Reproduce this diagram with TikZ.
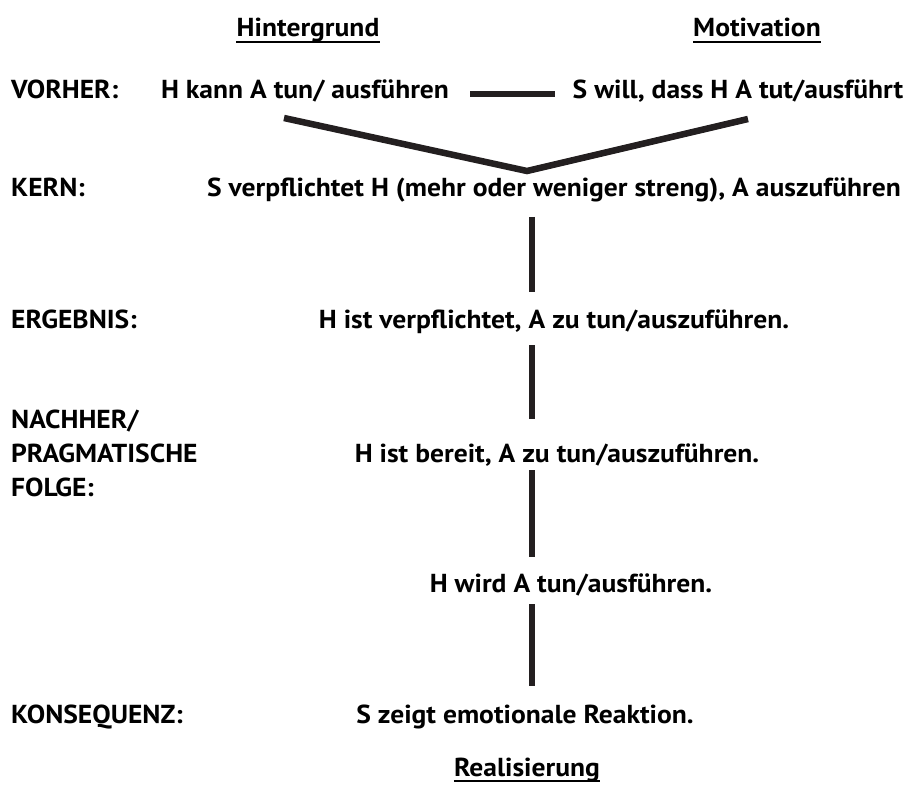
\documentclass[tikz,border=0pt]{standalone}
\usepackage{fontspec}
\setmainfont{PT Sans}[FakeStretch=1.06]
\definecolor{ink}{HTML}{231F20}
\begin{document}
\begin{tikzpicture}[x=1pt,y=-1pt,
  txt/.style={font=\fontsize{26}{30}\selectfont\bfseries, inner sep=0pt, anchor=base},
  lbl/.style={txt, anchor=base west},
  uline/.style={draw=black, line width=1.7pt},
  link/.style={line width=6.5pt, color=ink}]
\useasboundingbox (0,0) rectangle (907,786);

% column headings, each underlined
\node[txt] (hg) at (308,37) {Hintergrund};
\node[txt] (mo) at (757,37) {Motivation};
\node[txt] (re) at (527,776) {Realisierung};
\foreach \h in {hg,mo,re}
  \draw[uline] ([yshift=-5pt]\h.base west) -- ([yshift=-5pt]\h.base east);

% row labels
\node[lbl] (lv) at (11,99) {VORHER:};
\node[lbl] (lk) at (11,197) {KERN:};
\node[lbl] (le) at (11,328) {ERGEBNIS:};
\node[lbl] (ln1) at (11,428) {NACHHER/};
\node[lbl] (ln2) at (11,462) {PRAGMATISCHE};
\node[lbl] (ln3) at (11,496) {FOLGE:};
\node[lbl] (lq) at (11,723) {KONSEQUENZ:};

% statements
\node[txt] (hk) at (305,99) {H kann A tun/ ausführen};
\node[txt] (sw) at (738,99) {S will, dass H A tut/ausführt};
\node[txt] (kern) at (554,197) {S verpflichtet H (mehr oder weniger streng), A auszuführen};
\node[txt] (erg) at (554,328) {H ist verpflichtet, A zu tun/auszuführen.};
\node[txt] (ber) at (557,462) {H ist bereit, A zu tun/auszuführen.};
\node[txt] (wird) at (571,592) {H wird A tun/ausführen.};
\node[txt] (emo) at (525,723) {S zeigt emotionale Reaktion.};

% connector end points
\coordinate (hkR) at (470,94);
\coordinate (swL) at (555,94);
\coordinate (vL) at (284,118);
\coordinate (vM) at (527,171);
\coordinate (vR) at (748,119);
\coordinate (k1) at (532,217);
\coordinate (k2) at (532,292);
\coordinate (e1) at (532,345);
\coordinate (e2) at (532,419);
\coordinate (b1) at (532,470);
\coordinate (b2) at (532,557);
\coordinate (w1) at (532,604);
\coordinate (w2) at (532,686);

% connectors
\draw[link] (hkR) -- (swL);
\draw[link] (vL) -- (vM) -- (vR);
\draw[link] (k1) -- (k2);
\draw[link] (e1) -- (e2);
\draw[link] (b1) -- (b2);
\draw[link] (w1) -- (w2);
\end{tikzpicture}
\end{document}
